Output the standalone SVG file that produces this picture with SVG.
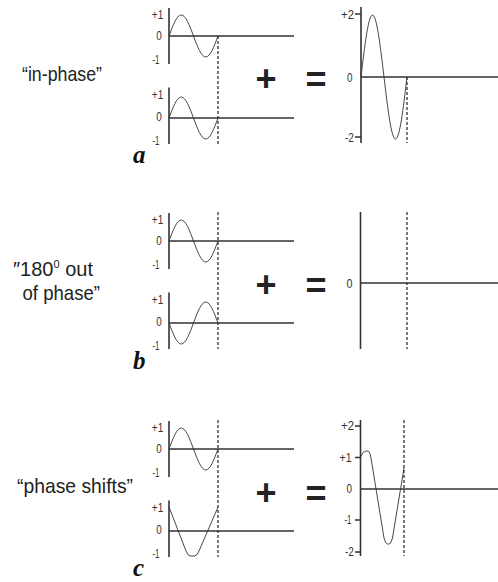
<svg xmlns="http://www.w3.org/2000/svg" xmlns:xlink="http://www.w3.org/1999/xlink" width="498" height="582" viewBox="0 0 498 582">
<style>
.ax{stroke:#333;stroke-width:1.6;fill:none}
.wv{stroke:#333;stroke-width:0.9;fill:none}
.ds{stroke:#333;stroke-width:1.3;stroke-dasharray:3 2;fill:none}
.lb{font-family:"Liberation Sans",Arial,sans-serif;font-size:12.5px;fill:#333;text-anchor:end}
.tx{font-family:"Liberation Sans",Arial,sans-serif;font-size:21px;fill:#222}
.op{font-family:"Liberation Sans",Arial,sans-serif;font-weight:bold;font-size:36px;fill:#222;text-anchor:middle}
.lt{font-family:"Liberation Serif","Times New Roman",serif;font-weight:bold;font-style:italic;font-size:25px;fill:#111}
</style>
<defs>
<path id="sw" class="wv" d="M0,0 c3.99,-10.76 7.82,-21 12.25,-21 s8.26,10.24 12.25,21 s7.82,21 12.25,21 s8.26,-10.24 12.25,-21"/>
<g id="small">
<path class="ax" d="M169,8 V64 M169,36 H294"/>
<text class="lb" x="163.3" y="18.5" textLength="11.5" lengthAdjust="spacingAndGlyphs">+1</text>
<text class="lb" x="161.7" y="39.5" textLength="5.5" lengthAdjust="spacingAndGlyphs">0</text>
<text class="lb" x="159.5" y="63.5" textLength="7" lengthAdjust="spacingAndGlyphs">-1</text>
</g>
<g id="small2">
<path class="ax" d="M169,87.5 V144 M169,118 H294"/>
<text class="lb" x="163.3" y="98.5" textLength="11.5" lengthAdjust="spacingAndGlyphs">+1</text>
<text class="lb" x="161.7" y="121" textLength="5.5" lengthAdjust="spacingAndGlyphs">0</text>
<text class="lb" x="159.5" y="144.5" textLength="7" lengthAdjust="spacingAndGlyphs">-1</text>
</g>
</defs>

<g id="panel-a">
<text class="tx" x="22" y="81" textLength="80" lengthAdjust="spacingAndGlyphs">“in-phase”</text>
<use xlink:href="#small"/>
<use xlink:href="#sw" transform="translate(169,36)"/>
<use xlink:href="#small2"/>
<use xlink:href="#sw" transform="translate(169,118)"/>
<path class="ds" d="M218,36 V145"/>
<text class="op" x="266" y="91">+</text>
<text class="op" x="316" y="92">=</text>
<path class="ax" d="M361,7 V143 M361,77 H498 M355,14 H361 M355,137 H361"/>
<text class="lb" x="354" y="18.5" textLength="13" lengthAdjust="spacingAndGlyphs">+2</text>
<text class="lb" x="352.5" y="81.5" textLength="5.5" lengthAdjust="spacingAndGlyphs">0</text>
<text class="lb" x="354" y="142" textLength="9" lengthAdjust="spacingAndGlyphs">-2</text>
<path class="wv" d="M361,77 c3.75,-31.76 7.34,-62 11.5,-62 s7.75,30.24 11.5,62 s7.34,62 11.5,62 s7.75,-30.24 11.5,-62"/>
<path class="ds" d="M407,77 V143"/>
<text class="lt" x="133" y="163">a</text>
</g>

<g id="panel-b">
<text class="tx" x="13" y="275.5" style="font-size:20px">″180<tspan style="font-size:11px" dy="-7.5">0</tspan><tspan dy="7.5"> out</tspan></text>
<text class="tx" x="22.5" y="299.5" textLength="77.5" lengthAdjust="spacingAndGlyphs">of phase”</text>
<use xlink:href="#small" transform="translate(0,205)"/>
<use xlink:href="#sw" transform="translate(169,241)"/>
<use xlink:href="#small2" transform="translate(0,205)"/>
<use xlink:href="#sw" transform="translate(169,323) scale(1,-1)"/>
<path class="ds" d="M218,212 V349"/>
<text class="op" x="266" y="297">+</text>
<text class="op" x="316" y="298">=</text>
<path class="ax" d="M360.5,212 V349 M360.5,283 H498"/>
<text class="lb" x="352.5" y="288" style="font-size:13.5px" textLength="6" lengthAdjust="spacingAndGlyphs">0</text>
<path class="ds" d="M407,212 V349"/>
<text class="lt" x="133" y="369">b</text>
</g>

<g id="panel-c">
<text class="tx" x="17" y="493" textLength="116" lengthAdjust="spacingAndGlyphs">“phase shifts”</text>
<use xlink:href="#small" transform="translate(0,413)"/>
<use xlink:href="#sw" transform="translate(169,449)"/>
<use xlink:href="#small2" transform="translate(0,413)"/>
<path class="wv" d="M169,507 L186,551 Q188,556 190.5,556 L194.5,556 Q197,556 199,551 L218,507"/>
<path class="ds" d="M218,420 V557"/>
<text class="op" x="266" y="505">+</text>
<text class="op" x="316" y="506">=</text>
<path class="ax" d="M360.5,420 V556 M360.5,489 H498 M355,426 H360.5 M355,457.5 H360.5 M355,520 H360.5 M355,552 H360.5"/>
<text class="lb" x="354" y="430" textLength="13" lengthAdjust="spacingAndGlyphs">+2</text>
<text class="lb" x="351.5" y="461.5" textLength="12" lengthAdjust="spacingAndGlyphs">+1</text>
<text class="lb" x="352" y="493" textLength="5.5" lengthAdjust="spacingAndGlyphs">0</text>
<text class="lb" x="351.5" y="524" textLength="7" lengthAdjust="spacingAndGlyphs">-1</text>
<text class="lb" x="354" y="556" textLength="9" lengthAdjust="spacingAndGlyphs">-2</text>
<path class="wv" d="M360.5,457 Q363,451 366,451 L368.5,451 Q370,452 371,458 L384,538 Q385.5,544 387.5,544 L389.5,544 Q391,543 392.5,538 L404,468"/>
<path class="ds" d="M404,420 V556"/>
<text class="lt" x="133" y="576">c</text>
</g>
</svg>
